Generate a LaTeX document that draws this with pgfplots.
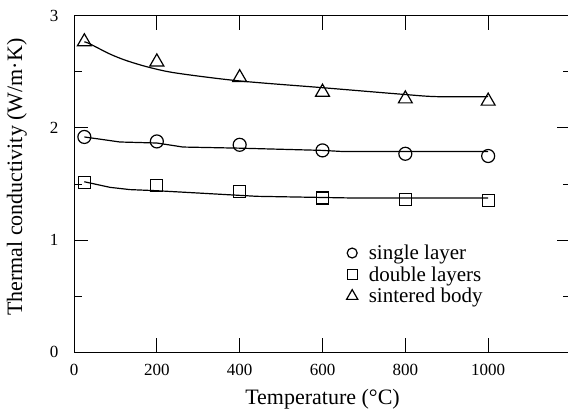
\documentclass[border=0pt]{standalone}
\usepackage{fontspec}
\setmainfont{Liberation Serif}
\usepackage{pgfplots}
\pgfplotsset{compat=1.18}
\begin{document}
\begin{tikzpicture}
\begin{axis}[
  scale only axis, width=497bp, height=336bp,
  xmin=0, xmax=1200, ymin=0, ymax=3,
  xtick={0,200,400,600,800,1000}, ytick={0,1,2,3},
  minor ytick={0.5,1.5,2.5},
  tick align=inside, major tick length=14bp, minor tick length=8bp,
  every tick/.style={black, line width=1bp},
  axis line style={line width=1bp},
  /pgf/number format/assume math mode=true,
  /pgf/number format/set thousands separator={},
  ticklabel style={font=\fontsize{17bp}{19bp}\selectfont},
  xticklabel style={yshift=-9bp},
  yticklabel style={xshift=-12bp},
  xlabel={Temperature (°C)},
  ylabel={Thermal conductivity (W/m·K)},
  label style={font=\fontsize{22bp}{24bp}\selectfont},
  xlabel style={at={(axis description cs:0.5,-0.14)}, anchor=center},
  ylabel style={at={(axis description cs:-0.115,0.52)}, anchor=center},
  legend style={at={(axis description cs:0.548,0.325)}, anchor=north west, draw=none, fill=none,
    inner sep=0pt, font=\fontsize{21bp}{23bp}\selectfont, row sep=1.5bp,
    /tikz/every odd column/.append style={column sep=9bp}},
  legend cell align=left,
]
% fitted curves
\addplot[black, line width=1.2bp, forget plot] coordinates {
 (25,1.92) (111,1.875) (200,1.866) (263,1.83) (400,1.82) (600,1.80) (649,1.79) (1000,1.79)};
\addplot[black, line width=1.2bp, forget plot] coordinates {
 (25,1.52) (87,1.47) (135,1.45) (200,1.44) (297,1.42) (441,1.39) (673,1.375) (1000,1.375)};
\addplot[black, line width=1.2bp, forget plot, smooth] coordinates {
 (25,2.77) (39,2.75) (87,2.66) (128,2.60) (183,2.54) (248,2.49) (400,2.42) (600,2.36) (796,2.30) (876,2.28) (1000,2.28)};
% data points
\addplot[only marks, mark=o, mark size=6.5bp, mark options={line width=1.2bp, black},
  legend image post style={mark size=5bp}] coordinates {
 (25,1.92) (200,1.88) (400,1.85) (600,1.80) (800,1.77) (1000,1.75)};
\addlegendentry{single layer}
\addplot[only marks, mark=square, mark size=6bp, mark options={line width=1.2bp, black},
  legend image post style={mark size=5bp}] coordinates {
 (25,1.51) (200,1.49) (400,1.43) (600,1.375) (800,1.36) (1000,1.35)};
\addlegendentry{double layers}
\addplot[only marks, mark=triangle, mark size=8bp, mark options={line width=1.2bp, black},
  legend image post style={mark size=6.5bp}] coordinates {
 (25,2.77) (200,2.59) (400,2.45) (600,2.32) (800,2.26) (1000,2.24)};
\addlegendentry{sintered body}
\end{axis}
\pgfresetboundingbox
\useasboundingbox ([xshift=-74bp,yshift=-57bp]current axis.south west) rectangle ([xshift=-3bp,yshift=16bp]current axis.north east);
\end{tikzpicture}
\end{document}
